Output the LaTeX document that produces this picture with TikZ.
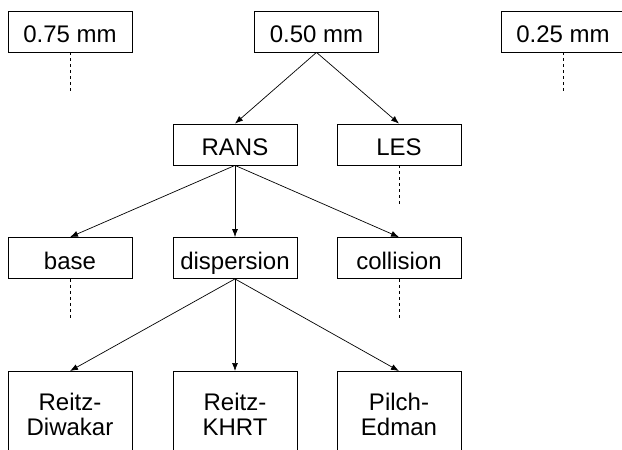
\documentclass[tikz,border=0pt]{standalone}
\usepackage{fontspec}
\setmainfont{Liberation Sans}
\usetikzlibrary{arrows.meta}
\begin{document}
\begin{tikzpicture}[x=1pt,y=-1pt,
  box/.style={draw, line width=0.8pt, minimum width=124pt, minimum height=41pt,
    inner sep=0pt, font=\fontsize{24}{25}\selectfont, text height=22.5pt, text depth=0pt},
  tall/.style={draw, line width=0.8pt, minimum width=124pt, minimum height=86pt,
    inner sep=0pt, anchor=north, align=center, font=\fontsize{24}{25}\selectfont},
  arr/.style={-{Latex[length=8pt,width=6pt]}, line width=0.7pt},
  dsh/.style={dash pattern=on 3pt off 3pt, line width=0.7pt}]
\useasboundingbox (0,0) rectangle (622,450);
\clip (0,0) rectangle (622,450);
% row 1
\node[box] (m75) at (70,31.5) {0.75 mm};
\node[box] (m50) at (316.5,31.5) {0.50 mm};
\node[box] (m25) at (563,31.5) {0.25 mm};
% row 2
\node[box] (rans) at (235,144.5) {RANS};
\node[box] (les) at (399,144.5) {LES};
% row 3
\node[box] (base) at (70,258) {base};
\node[box] (disp) at (235,258) {dispersion};
\node[box] (coll) at (399,258) {collision};
% row 4
\node[tall] (rd) at (70,371) {Reitz-\\Diwakar};
\node[tall] (rk) at (235,371) {Reitz-\\KHRT};
\node[tall] (pe) at (399,371) {Pilch-\\Edman};
% dashed stubs
\coordinate (d75) at (70,92);
\coordinate (d25) at (563,92);
\coordinate (dles) at (399,205);
\coordinate (dbase) at (70,318);
\coordinate (dcoll) at (399,318);
\draw[dsh] (m75.south) -- (d75);
\draw[dsh] (m25.south) -- (d25);
\draw[dsh] (les.south) -- (dles);
\draw[dsh] (base.south) -- (dbase);
\draw[dsh] (coll.south) -- (dcoll);
% arrows
\draw[arr] (m50.south) -- (rans.north);
\draw[arr] (m50.south) -- (les.north);
\draw[arr] (rans.south) -- (base.north);
\draw[arr] (rans.south) -- (disp.north);
\draw[arr] (rans.south) -- (coll.north);
\draw[arr] (disp.south) -- (rd.north);
\draw[arr] (disp.south) -- (rk.north);
\draw[arr] (disp.south) -- (pe.north);
\end{tikzpicture}
\end{document}
